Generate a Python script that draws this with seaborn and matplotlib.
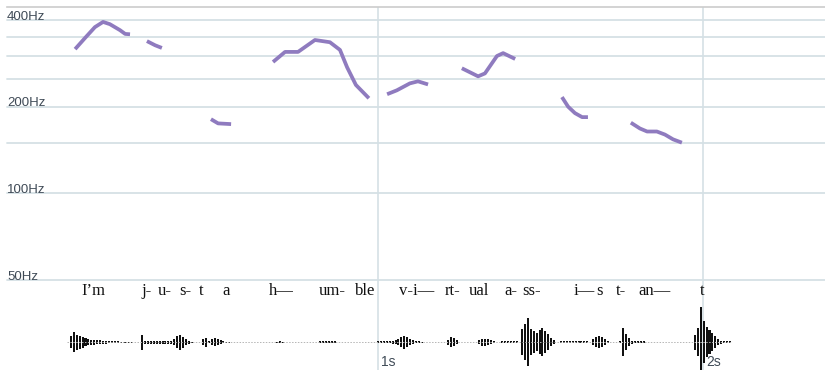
import numpy as np
import pandas as pd
import seaborn as sns
import matplotlib.pyplot as plt
from matplotlib.ticker import NullLocator

# pitch contour, one list per voiced stretch (time in s, pitch in Hz)
contour_t = [
    [0.068, 0.098, 0.129, 0.154, 0.175, 0.206, 0.222, 0.237],
    [0.289, 0.314, 0.335],
    [0.486, 0.508, 0.548],
    [0.677, 0.714, 0.754, 0.806, 0.852, 0.883, 0.905, 0.932, 0.972],
    [1.028, 1.058, 1.098, 1.123, 1.154],
    [1.258, 1.308, 1.329, 1.366, 1.385, 1.422],
    [1.566, 1.585, 1.606, 1.628, 1.646],
    [1.778, 1.806, 1.828, 1.858, 1.883, 1.908, 1.935],
]
contour_hz = [
    [317, 346, 378, 394, 387, 369, 358, 357],
    [338, 327, 320],
    [181, 175, 174],
    [286, 310, 310, 341, 335, 315, 274, 238, 214],
    [221, 228, 241, 245, 239],
    [272, 255, 261, 300, 307, 293],
    [216, 200, 190, 184, 184],
    [176, 168, 164, 164, 160, 154, 150],
]

grid_hz = [50, 100, 150, 200, 250, 300, 350, 400]
label_hz = [50, 100, 200, 400]
sec_marks = [1, 2]

# syllables under the contour
word_labels = ["I\u2019m", "j-", "u-", "s-", "t", "a", "h\u2014", "um-", "ble",
               "v-i\u2014", "rt-", "ual", "a-", "ss-", "i\u2014", "s", "t-",
               "an\u2014", "t"]
word_t = [0.125, 0.287, 0.343, 0.406, 0.455, 0.534, 0.702, 0.859, 0.960,
          1.120, 1.231, 1.311, 1.409, 1.474, 1.634, 1.683, 1.748, 1.852, 1.997]

# waveform: bursts of bars (start time, half heights)
wave_start = [0.055, 0.274, 0.4615, 0.689, 0.822, 1.000, 1.215, 1.311,
              1.382, 1.443, 1.563, 1.662, 1.745, 1.975]
wave_amp = [
    [6, 10, 7.5, 6.5, 5.5, 4, 3, 2.5, 2.5, 2, 2, 1.5, 1.5, 1, 1, 0.6, 0.6,
     0.5, 0.5, 0.5, 0.5, 0.5],
    [7.5, 1.5, 1.5, 1.5, 1.5, 1.5, 1.5, 1.5, 1.5, 1.5, 1.5, 3, 6, 7.5, 5.5,
     3, 1.5, 0.5],
    [3, 4.5, 1, 3, 4, 3, 2, 1, 0.5, 0.5],
    [0.5, 1.2, 0.5],
    [0.7, 0.7, 0.7, 0.7, 0.7, 0.7],
    [0.7, 0.7, 0.7, 0.7, 0.7, 1.5, 2, 3, 5, 6.5, 5, 3, 2, 1, 1, 0.5],
    [2.5, 5, 4, 2],
    [2, 3.5, 3.5, 3, 2, 1],
    [1, 1, 1, 1, 1, 1],
    [13, 18, 24, 13, 11, 9, 12, 14, 11, 8, 4, 2],
    [0.7, 0.7, 0.7, 0.7, 0.7, 0.7, 0.7, 0.7, 0.7, 0.7],
    [3, 5, 6, 5, 3, 1],
    [1, 14, 8, 4, 1.5, 0.7, 0.7, 0.7, 0.7],
    [7.5, 14, 35, 21, 15, 12, 9, 6, 3, 1.5, 0.6, 0.6, 0.6],
]
bar_step = 0.009
wave_span = [0.043, 2.089]

sns.set_theme(style="white")
plt.rcParams["font.family"] = ["Liberation Sans", "DejaVu Sans"]

grid_c = "#d5e0e5"
label_c = "#3f4a56"
purple = "#8f7bbf"

fig = plt.figure(figsize=(8.25, 3.7), dpi=100)
W, H = 825.0, 370.0
x0 = 7 / W
ax = fig.add_axes([x0, 90 / H, 1 - x0, 273 / H])
ax2 = fig.add_axes([x0, 0, 1 - x0, 90 / H])
xlim = (-46 / 325, 772 / 325)

for a in (ax, ax2):
    a.set_xlim(*xlim)
    a.patch.set_visible(False)
    for s in a.spines.values():
        s.set_visible(False)
    a.set_xticks([])
    a.set_yticks([])
    for t in sec_marks:
        a.axvline(t, color=grid_c, lw=1.2, zorder=0)

ax.set_yscale("log")
ax.set_ylim(50, 444)
ax.yaxis.set_minor_locator(NullLocator())
ax.set_yticks([])
ax.spines["top"].set_visible(True)
ax.spines["top"].set_color("#cccccc")
ax.spines["top"].set_linewidth(1.2)

for g in grid_hz:
    ax.axhline(g, color=grid_c, lw=1.3, zorder=0, clip_on=False)
for g in label_hz:
    ax.text(xlim[0], g * 1.004, f"{g}Hz", ha="left", va="baseline",
            fontsize=9.5, color=label_c)

rows = []
for i, (ts, hs) in enumerate(zip(contour_t, contour_hz)):
    for t, h in zip(ts, hs):
        rows.append({"seg": i, "t": t, "hz": h})
df = pd.DataFrame(rows)
sns.lineplot(data=df, x="t", y="hz", units="seg", estimator=None, sort=False,
             color=purple, lw=2.7, solid_capstyle="butt",
             solid_joinstyle="round", ax=ax)
ax.set_xlabel("")
ax.set_ylabel("")

# lower strip: syllables and waveform (y in pixels, 0 = waveform baseline)
ax2.set_ylim(-28, 62)
ax2.hlines(0, wave_span[0], wave_span[1], color="#b5b5b5", lw=0.7,
           linestyles=(0, (1.5, 1.5)))
for st, amps in zip(wave_start, wave_amp):
    amps = np.array(amps)
    tt = st + bar_step * np.arange(len(amps))
    ax2.bar(tt, 2 * amps, bottom=-amps, width=0.0062, color="#111111",
            linewidth=0)

for lab, t in zip(word_labels, word_t):
    ax2.text(t, 47, lab, ha="center", va="baseline", fontsize=12,
             family=["Liberation Serif", "DejaVu Serif"], color="#111111")

for t in sec_marks:
    ax2.text(t + 3 / 325, -13, f"{t}s", ha="left", va="top", fontsize=10,
             color=label_c)

fig.savefig("out.png", dpi=100)
